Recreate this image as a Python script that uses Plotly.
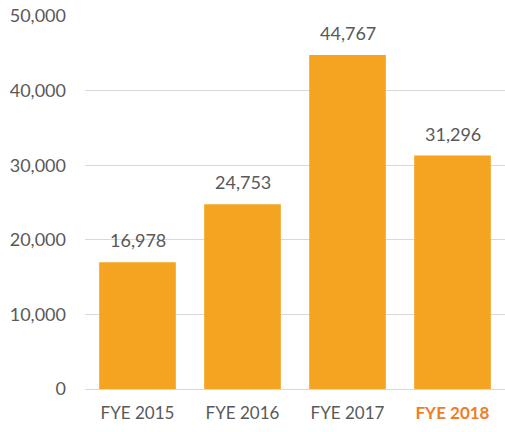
import plotly.graph_objects as go

categories = ["FYE 2015", "FYE 2016", "FYE 2017", "FYE 2018"]
values = [16978, 24753, 44767, 31296]
tick_vals = [0, 10000, 20000, 30000, 40000, 50000]
tick_labels = ["0", "10,000", "20,000", "30,000", "40,000", "50,000"]

BAR = "#F5A421"
TXT = "#595959"
HIGHLIGHT = "#F07D22"
FONT = "Lato"

x_ticktext = categories[:-1] + [f"<b><span style='color:{HIGHLIGHT}'>{categories[-1]}</span></b>"]

fig = go.Figure()
fig.add_trace(go.Bar(
    x=categories, y=values, marker=dict(color=BAR, line=dict(width=0)),
    hoverinfo="skip",
))
for c, v in zip(categories, values):
    fig.add_annotation(x=c, y=v, text=f"{v:,}", showarrow=False, yanchor="bottom",
                       yshift=9, font=dict(family=FONT, size=18, color=TXT))

fig.update_layout(
    width=505, height=432,
    margin=dict(l=85, r=0, t=16, b=43),
    paper_bgcolor="white", plot_bgcolor="white",
    bargap=0.27, showlegend=False,
    font=dict(family=FONT, size=18, color=TXT),
    xaxis=dict(tickmode="array", tickvals=categories, ticktext=x_ticktext,
               showline=False, showgrid=False, ticks="", tickfont=dict(size=17),
               ticklabelstandoff=12, automargin=False),
    yaxis=dict(range=[0, 50000], tickmode="array", tickvals=tick_vals, ticktext=tick_labels,
               showgrid=True, gridcolor="#D9D9D9", gridwidth=1, zeroline=True,
               zerolinecolor="#D9D9D9", zerolinewidth=1, showline=False, ticks="",
               ticklabelstandoff=18, automargin=False, tickfont=dict(size=18)),
)
fig.write_html("out.html", config={"displayModeBar": False},
               post_script="document.body.style.margin='0';document.body.style.overflow='hidden';")
